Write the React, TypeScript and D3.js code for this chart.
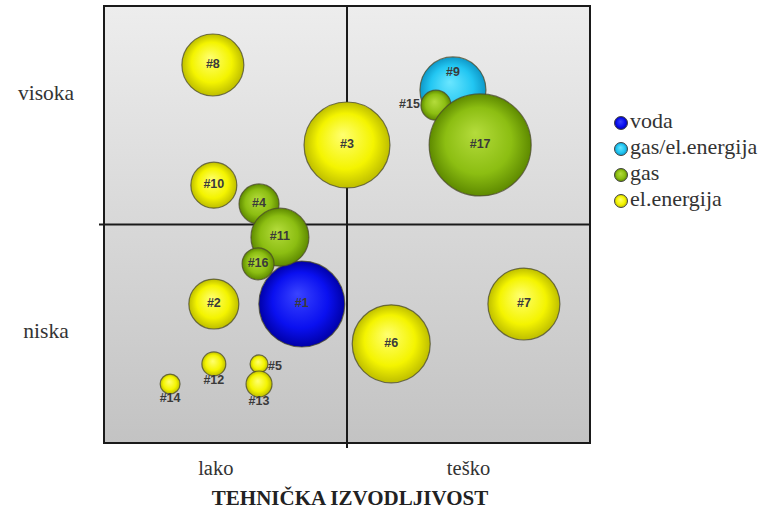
import React from 'react';
import * as d3 from 'd3';

// bubble data: technical feasibility (x), y level (visoka/niska), size
const ids = ['#1', '#2', '#3', '#4', '#5', '#6', '#7', '#8', '#9', '#10', '#11', '#12', '#13', '#14', '#15', '#16', '#17'];
const xVals = [4.07, 2.26, 5.0, 3.19, 3.19, 5.91, 8.64, 2.24, 7.18, 2.26, 3.62, 2.26, 3.19, 1.36, 6.83, 3.17, 7.74];
const yVals = [3.18, 3.18, 6.82, 5.47, 1.81, 2.27, 3.18, 8.65, 8.08, 5.9, 4.71, 1.81, 1.35, 1.35, 7.73, 4.1, 6.82];
const sizes = [71, 24, 71, 15.4, 3.1, 58.5, 49.8, 36.9, 41.9, 20.3, 32.3, 5.5, 6.5, 3.8, 8.7, 9.8, 100];
const kinds = [0, 3, 3, 2, 3, 3, 3, 3, 1, 3, 2, 3, 3, 3, 2, 2, 2];
const labelPos = ['c', 'c', 'c', 'c', 'r', 'c', 'c', 'c', 't', 'c', 'c', 'b', 'b', 'b', 'l', 'c', 'c'];

const seriesNames = ['voda', 'gas/el.energija', 'gas', 'el.energija'];
const xTickLabels = ['lako', 'teško'];
const yTickLabels = ['visoka', 'niska'];
const xTitle = 'TEHNIČKA IZVODLJIVOST';

// light / base / dark shades per series
const shades = [
  ['#3a44ff', '#0a10f0', '#0000a8'],
  ['#6ae6ff', '#22c6f2', '#0e98c8'],
  ['#b4dc3c', '#8cbe12', '#5e8a00'],
  ['#ffff70', '#f4f400', '#bebe00'],
];

const W = 767;
const H = 514;
const left = 104;
const right = 590;
const top = 6;
const bottom = 443;

const App: React.FC = () => {
  const x = d3.scaleLinear().domain([0, 10]).range([left, right]);
  const y = d3.scaleLinear().domain([0, 10]).range([bottom, top]);
  const r = d3.scaleSqrt().domain([0, 100]).range([0, 51]);

  const midX = x(5);
  const midY = y(5);

  const serif = 'Liberation Serif, Times New Roman, serif';
  const sans = 'Liberation Sans, Arial, sans-serif';

  const legendY = d3.scalePoint<string>().domain(seriesNames).range([123, 201]);

  return (
    <svg width={W} height={H} style={{ position: 'absolute', left: 0, top: 0, background: '#fff' }}>
      <defs>
        <linearGradient id="bg" x1="0" y1="0" x2="0" y2="1">
          <stop offset="0%" stopColor="#ededed" />
          <stop offset="100%" stopColor="#c3c3c3" />
        </linearGradient>
        {shades.map((s, i) => (
          <radialGradient key={i} id={`ball${i}`} cx="50%" cy="50%" r="50%" fx="45%" fy="38%">
            <stop offset="0%" stopColor={s[0]} />
            <stop offset="65%" stopColor={s[1]} />
            <stop offset="100%" stopColor={s[2]} />
          </radialGradient>
        ))}
      </defs>

      {/* plot background and quadrant lines */}
      <rect x={left} y={top} width={right - left} height={bottom - top} fill="url(#bg)" />
      <line x1={midX} x2={midX} y1={top} y2={bottom + 5} stroke="#1a1a1a" strokeWidth={2} />
      <line x1={left - 5} x2={right} y1={midY} y2={midY} stroke="#1a1a1a" strokeWidth={2} />

      {/* bubbles */}
      {ids.map((id, i) => {
        const cx = x(xVals[i]);
        const cy = y(yVals[i]);
        const rr = r(sizes[i]);
        let lx = cx;
        let ly = cy;
        let anchor = 'middle';
        if (labelPos[i] === 't') ly = cy - 17;
        if (labelPos[i] === 'b') ly = cy + rr + 5;
        if (labelPos[i] === 'l') { lx = cx - rr - 1; anchor = 'end'; }
        if (labelPos[i] === 'r') { lx = cx + rr; anchor = 'start'; ly = cy + 3; }
        return (
          <g key={id}>
            <circle cx={cx} cy={cy} r={rr} fill={`url(#ball${kinds[i]})`} stroke="#4a4a2a" strokeOpacity={0.75} strokeWidth={1.2} />
            <text x={lx} y={ly} textAnchor={anchor} dominantBaseline="middle" fontFamily={sans} fontSize={12.5} fontWeight="bold" fill="#3a3a3a">
              {id}
            </text>
          </g>
        );
      })}

      {/* frame */}
      <rect x={left} y={top} width={right - left} height={bottom - top} fill="none" stroke="#1a1a1a" strokeWidth={2} />

      {/* axis labels */}
      <text x={46} y={100} textAnchor="middle" fontFamily={serif} fontSize={21.5} fill="#333">{yTickLabels[0]}</text>
      <text x={46} y={338} textAnchor="middle" fontFamily={serif} fontSize={21.5} fill="#333">{yTickLabels[1]}</text>
      <text x={x(2.3)} y={475} textAnchor="middle" fontFamily={serif} fontSize={20.5} fill="#333">{xTickLabels[0]}</text>
      <text x={x(7.5)} y={475} textAnchor="middle" fontFamily={serif} fontSize={20.5} fill="#333">{xTickLabels[1]}</text>
      <text x={midX + 3} y={505} textAnchor="middle" fontFamily={serif} fontSize={21} fontWeight="bold" fill="#222">{xTitle}</text>

      {/* legend */}
      {seriesNames.map((name, i) => {
        const ly = legendY(name) as number;
        return (
          <g key={name}>
            <circle cx={621} cy={ly} r={6.5} fill={`url(#ball${i})`} stroke="#444" strokeWidth={1} />
            <text x={630} y={ly} dominantBaseline="middle" fontFamily={serif} fontSize={22} fill="#333">{name}</text>
          </g>
        );
      })}
    </svg>
  );
};

export default App;
